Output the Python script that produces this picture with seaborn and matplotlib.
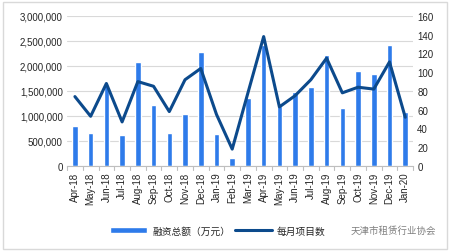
import matplotlib
matplotlib.use("Agg")
import matplotlib.pyplot as plt
from matplotlib.patches import Rectangle
from matplotlib.ticker import FuncFormatter, MultipleLocator
import seaborn as sns
import pandas as pd
import numpy as np

months = ["Apr-18", "May-18", "Jun-18", "Jul-18", "Aug-18", "Sep-18", "Oct-18", "Nov-18",
          "Dec-18", "Jan-19", "Feb-19", "Mar-19", "Apr-19", "May-19", "Jun-19", "Jul-19",
          "Aug-19", "Sep-19", "Oct-19", "Nov-19", "Dec-19", "Jan-20"]
financing = [800000, 660000, 1620000, 620000, 2080000, 1220000, 660000, 1040000,
             2280000, 640000, 150000, 1360000, 2420000, 1200000, 1480000, 1580000,
             2220000, 1160000, 1900000, 1840000, 2420000, 1080000]
projects = [74, 53, 88, 47, 90, 85, 58, 92,
            104, 55, 18, 78, 138, 63, 75, 92,
            115, 78, 84, 82, 111, 52]
bar_label = "融资总额（万元）"
line_label = "每月项目数"
watermark = "天津市租赁行业协会"

df = pd.DataFrame({"month": months, "financing": financing, "projects": projects})
df["pos"] = np.arange(len(df))

sns.set_style("white")
plt.rcParams["font.family"] = ["Liberation Sans", "Noto Sans CJK SC", "DejaVu Sans"]

bar_color = "#2E7BEA"
line_color = "#0C4A8C"

fig = plt.figure(figsize=(4.5, 2.53), dpi=100)
ax = fig.add_axes([0.149, 0.340, 0.769, 0.593])
ax2 = ax.twinx()

sns.barplot(data=df, x="month", y="financing", color=bar_color, width=0.35,
            saturation=1, ax=ax, label=bar_label, zorder=2)
sns.lineplot(data=df, x="pos", y="projects", color=line_color, linewidth=2.2,
             ax=ax2, label=line_label, zorder=3)

ax.set_ylim(0, 3000000)
ax2.set_ylim(0, 160)
ax.set_xlim(-0.5, len(months) - 0.5)
ax.yaxis.set_major_locator(MultipleLocator(500000))
ax2.yaxis.set_major_locator(MultipleLocator(20))
ax.yaxis.set_major_formatter(FuncFormatter(lambda v, p: f"{int(v):,}"))
ax.grid(axis="y", color="#D9D9D9", linewidth=0.8, zorder=0)
ax.set_axisbelow(True)

ax.set_xlabel("")
ax.set_ylabel("")
ax2.set_xlabel("")
ax2.set_ylabel("")
ax.set_xticks(range(len(months)))
ax.set_xticklabels(months, rotation=90, fontsize=7)
ax.tick_params(axis="x", length=0, pad=4)
ax.tick_params(axis="y", labelsize=7, length=0, pad=3)
ax2.tick_params(axis="y", labelsize=7, length=0, pad=3)

# category boundary ticks on bottom axis
for b in np.arange(-0.5, len(months), 1.0):
    ax.plot([b, b], [0, -0.025], transform=ax.get_xaxis_transform(), color="#BFBFBF",
            linewidth=0.8, clip_on=False)

for a in (ax, ax2):
    for s in ("top", "left", "right", "bottom"):
        a.spines[s].set_visible(False)
ax.spines["bottom"].set_visible(True)
ax.spines["bottom"].set_color("#BFBFBF")
ax.spines["bottom"].set_linewidth(0.8)

h1, l1 = ax.get_legend_handles_labels()
h2, l2 = ax2.get_legend_handles_labels()
if ax.get_legend():
    ax.get_legend().remove()
if ax2.get_legend():
    ax2.get_legend().remove()
fig.legend(h1 + h2, l1 + l2, loc="center left", bbox_to_anchor=(0.245, 0.085), ncol=2,
           frameon=False, fontsize=7, handlelength=3.8, handleheight=0.5,
           columnspacing=0.5, handletextpad=0.5, borderaxespad=0, borderpad=0)

fig.text(0.778, 0.085, watermark, fontsize=6.8, color="#7F7F7F",
         family=["Noto Sans CJK SC"], ha="left", va="center")

fig.patches.append(Rectangle((0.006, 0.012), 0.988, 0.976, transform=fig.transFigure,
                             fill=False, edgecolor="#D9D9D9", linewidth=1.0))

fig.savefig("out.png", dpi=100)
